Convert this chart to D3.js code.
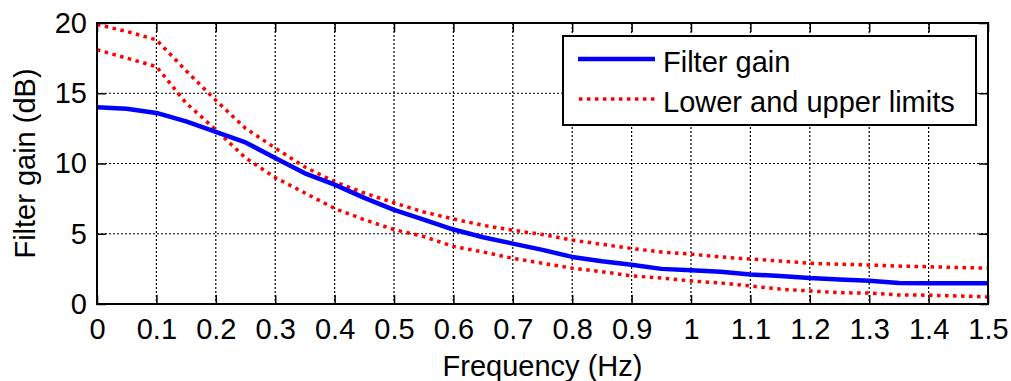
<!DOCTYPE html>
<html>
<head>
<meta charset="utf-8">
<script src="https://cdn.jsdelivr.net/npm/d3@7"></script>
<style>
  body { margin: 0; background: #fff; }
  svg text { font-family: "Liberation Sans", Arial, sans-serif; fill: #000; }
</style>
</head>
<body>
<div id="chart"></div>
<script>
// frequency samples (Hz)
var freq = [0, 0.05, 0.1, 0.15, 0.2, 0.25, 0.3, 0.35, 0.4, 0.45, 0.5, 0.55, 0.6, 0.65, 0.7, 0.75,
    0.8, 0.85, 0.9, 0.95, 1.0, 1.05, 1.1, 1.15, 1.2, 1.25, 1.3, 1.35, 1.4, 1.45, 1.5];

// filter gain (dB)
var gain = [14.0, 13.9, 13.6, 13.0, 12.25, 11.5, 10.4, 9.3, 8.5, 7.55, 6.7, 6.0, 5.3, 4.75, 4.3, 3.85,
    3.35, 3.05, 2.8, 2.5, 2.4, 2.3, 2.1, 2.0, 1.85, 1.75, 1.65, 1.5, 1.47, 1.47, 1.47];

// upper limit (dB)
var upper = [19.9, 19.4, 18.8, 16.6, 14.5, 12.5, 11.1, 9.75, 8.7, 7.9, 7.2, 6.55, 6.05, 5.6, 5.25, 4.95,
    4.55, 4.25, 3.95, 3.7, 3.55, 3.35, 3.2, 3.06, 2.9, 2.83, 2.78, 2.7, 2.65, 2.6, 2.55];

// lower limit (dB)
var lower = [18.1, 17.5, 16.9, 14.3, 12.4, 10.4, 9.0, 7.9, 6.8, 6.0, 5.3, 4.8, 4.1, 3.7, 3.25, 2.9,
    2.55, 2.3, 2.0, 1.85, 1.64, 1.5, 1.28, 1.06, 0.93, 0.8, 0.78, 0.64, 0.63, 0.57, 0.5];

var xTicks = [0, 0.1, 0.2, 0.3, 0.4, 0.5, 0.6, 0.7, 0.8, 0.9, 1, 1.1, 1.2, 1.3, 1.4, 1.5];
var yTicks = [0, 5, 10, 15, 20];

var legendLabels = ["Filter gain", "Lower and upper limits"];

var fontSize = 29;

var margin = {top: 23, right: 23, bottom: 77, left: 97},
    width = 1011 - margin.left - margin.right,
    height = 381 - margin.top - margin.bottom;

var svg = d3.select("#chart").append("svg")
    .attr("width", 1011)
    .attr("height", 381);

var g = svg.append("g")
    .attr("transform", "translate(" + margin.left + "," + margin.top + ")");

var x = d3.scaleLinear().domain([0, 1.5]).range([0, width]);
var y = d3.scaleLinear().domain([0, 20]).range([height, 0]);

// grid
g.selectAll(".vgrid").data(xTicks.slice(1, -1)).enter().append("line")
    .attr("x1", d => x(d)).attr("x2", d => x(d))
    .attr("y1", 0).attr("y2", height)
    .attr("stroke", "#000").attr("stroke-width", 1.2)
    .attr("stroke-dasharray", "2,2");

g.selectAll(".hgrid").data(yTicks.slice(1, -1)).enter().append("line")
    .attr("x1", 0).attr("x2", width)
    .attr("y1", d => y(d)).attr("y2", d => y(d))
    .attr("stroke", "#000").attr("stroke-width", 1.2)
    .attr("stroke-dasharray", "2,2");

// axes (ticks inside, MATLAB style)
var tickLen = 9;
var xAxis = d3.axisBottom(x).tickValues(xTicks).tickSize(-tickLen).tickPadding(14)
    .tickFormat(d3.format("~g"));
var yAxis = d3.axisLeft(y).tickValues(yTicks).tickSize(-tickLen).tickPadding(10);

var gx = g.append("g").attr("transform", "translate(0," + height + ")").call(xAxis);
var gy = g.append("g").call(yAxis);
var gxTop = g.append("g").call(d3.axisTop(x).tickValues(xTicks).tickSize(-tickLen).tickFormat(""));
var gyRight = g.append("g").attr("transform", "translate(" + width + ",0)")
    .call(d3.axisRight(y).tickValues(yTicks).tickSize(-tickLen).tickFormat(""));

[gx, gy, gxTop, gyRight].forEach(function (a) {
    a.select(".domain").remove();
    a.selectAll("line").attr("stroke", "#000").attr("stroke-width", 1.5);
    a.selectAll("text").attr("font-size", fontSize).style("font-family", "Liberation Sans, Arial, sans-serif");
});

// lines
var line = d3.line()
    .x((d, i) => x(freq[i]))
    .y(d => y(d));

g.append("path").datum(upper)
    .attr("d", line).attr("fill", "none")
    .attr("stroke", "#ff0000").attr("stroke-width", 3.5)
    .attr("stroke-dasharray", "3.5,4.5");

g.append("path").datum(lower)
    .attr("d", line).attr("fill", "none")
    .attr("stroke", "#ff0000").attr("stroke-width", 3.5)
    .attr("stroke-dasharray", "3.5,4.5");

g.append("path").datum(gain)
    .attr("d", line).attr("fill", "none")
    .attr("stroke", "#0000ff").attr("stroke-width", 4.5)
    .attr("stroke-linejoin", "round");

// box
g.append("rect")
    .attr("x", 0).attr("y", 0)
    .attr("width", width).attr("height", height)
    .attr("fill", "none").attr("stroke", "#000").attr("stroke-width", 2);

// legend
var legend = svg.append("g");
legend.append("rect")
    .attr("x", 563).attr("y", 36).attr("width", 413).attr("height", 89)
    .attr("fill", "#fff").attr("stroke", "#000").attr("stroke-width", 2);

legend.append("line")
    .attr("x1", 578).attr("x2", 655).attr("y1", 59).attr("y2", 59)
    .attr("stroke", "#0000ff").attr("stroke-width", 4.5);
legend.append("line")
    .attr("x1", 579).attr("x2", 655).attr("y1", 99).attr("y2", 99)
    .attr("stroke", "#ff0000").attr("stroke-width", 3.5)
    .attr("stroke-dasharray", "3.5,4.5");

legend.selectAll(".lab").data(legendLabels).enter().append("text")
    .attr("x", 663)
    .attr("y", (d, i) => 72 + i * 40)
    .attr("font-size", fontSize)
    .text(d => d);

// axis titles
svg.append("text")
    .attr("x", margin.left + width / 2)
    .attr("y", 376)
    .attr("text-anchor", "middle")
    .attr("font-size", fontSize)
    .text("Frequency (Hz)");

svg.append("text")
    .attr("transform", "translate(35," + (margin.top + height / 2) + ") rotate(-90)")
    .attr("text-anchor", "middle")
    .attr("font-size", fontSize)
    .text("Filter gain (dB)");
</script>
</body>
</html>
